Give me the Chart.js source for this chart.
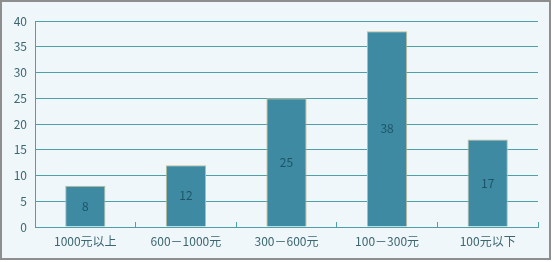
<!DOCTYPE html>
<html>
<head>
<meta charset="utf-8">
<script src="https://cdn.jsdelivr.net/npm/chart.js@4/dist/chart.umd.min.js"></script>
<style>
  body { margin: 0; background: #fff; }
  #box {
    position: absolute; left: 0; top: 0;
    width: 551px; height: 260px;
    box-sizing: border-box;
    border: 2px solid #8e8e8e;
    background: #eff7fa;
  }
  canvas { display: block; }
</style>
</head>
<body>
<div id="box"><canvas id="priceChart" width="547" height="256"></canvas></div>
<script>
const categories = ["1000元以上", "600－1000元", "300－600元", "100－300元", "100元以下"];
const counts = [8, 12, 25, 38, 17];
const yTicks = [0, 5, 10, 15, 20, 25, 30, 35, 40];

const FONT = { family: "'Noto Sans CJK SC', 'DejaVu Sans', sans-serif", size: 12 };

// Write the value in the middle of each bar
const barValues = {
	id: "barValues",
	afterDatasetsDraw(chart) {
		const ctx = chart.ctx;
		const meta = chart.getDatasetMeta(0);
		ctx.save();
		ctx.font = `${FONT.size}px ${FONT.family}`;
		ctx.fillStyle = "#1e5566";
		ctx.textAlign = "center";
		ctx.textBaseline = "middle";
		meta.data.forEach((bar, i) => {
			ctx.fillText(String(counts[i]), bar.x, (bar.y + bar.base) / 2);
		});
		ctx.restore();
	},
};

new Chart(document.getElementById("priceChart"), {
	type: "bar",
	data: {
		labels: categories,
		datasets: [
			{
				data: counts,
				backgroundColor: "#3d8aa2",
				borderColor: "#c8b98c",
				borderWidth: 1,
				barPercentage: 0.4,
				categoryPercentage: 1,
			},
		],
	},
	options: {
		responsive: false,
		animation: false,
		layout: { padding: { top: 19, right: 11, left: 0, bottom: 0 } },
		plugins: { legend: { display: false }, tooltip: { enabled: false } },
		scales: {
			x: {
				grid: { drawOnChartArea: false, color: "#4f9fa6", tickLength: -5, offset: true },
				border: { color: "#4f9fa6", width: 1 },
				ticks: { color: "#3c6670", font: FONT, padding: 12, maxRotation: 0 },
				afterFit(scale) { scale.height = 31; },
			},
			y: {
				min: 0,
				max: 40,
				afterBuildTicks(scale) { scale.ticks = yTicks.map((v) => ({ value: v })); },
				grid: { color: "#4f9fa6", drawTicks: false },
				border: { color: "#4f9fa6", width: 1 },
				ticks: { color: "#3c6670", font: FONT, padding: 8 },
				afterFit(scale) { scale.width = 33; },
			},
		},
	},
	plugins: [barValues],
});
</script>
</body>
</html>
